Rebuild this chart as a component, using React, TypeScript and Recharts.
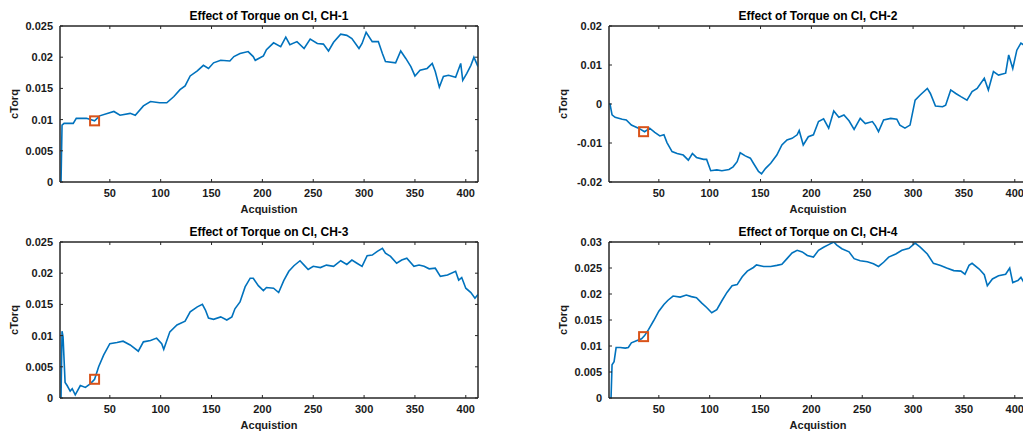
import React from "react";
import { LineChart, Line, XAxis, YAxis, ReferenceDot, ReferenceArea } from "recharts";

// acquisition index / cTorq values
const ch1X = [1, 2, 3, 5, 14, 17, 27, 35, 40, 54, 60, 70, 75, 83, 90, 99, 106, 113, 119, 124, 129, 136, 142, 147, 152, 159, 168, 172, 178, 186, 191, 193, 201, 204, 211, 218, 223, 227, 234, 241, 247, 254, 260, 265, 270, 277, 283, 288, 295, 298, 302, 308, 314, 318, 321, 331, 336, 341, 346, 350, 355, 362, 367, 370, 374, 378, 383, 390, 395, 397, 401, 405, 408, 412];
const ch1Y = [0, 0, 0.0091, 0.0094, 0.0094, 0.0102, 0.0102, 0.0098, 0.0106, 0.0113, 0.0107, 0.011, 0.0107, 0.0122, 0.0129, 0.0127, 0.0127, 0.0137, 0.0148, 0.0154, 0.017, 0.0178, 0.0187, 0.0182, 0.0191, 0.0195, 0.0194, 0.0201, 0.0206, 0.0209, 0.0201, 0.0195, 0.0202, 0.0212, 0.0223, 0.0217, 0.0232, 0.022, 0.0225, 0.0214, 0.0229, 0.0222, 0.0221, 0.021, 0.0224, 0.0237, 0.0235, 0.023, 0.0214, 0.0222, 0.024, 0.0225, 0.0225, 0.0206, 0.0193, 0.0191, 0.021, 0.0198, 0.0185, 0.017, 0.0179, 0.0182, 0.019, 0.0177, 0.0152, 0.0169, 0.0171, 0.0168, 0.019, 0.0163, 0.0174, 0.0187, 0.02, 0.0185];

const ch2X = [1, 2, 4, 7, 14, 18, 23, 30, 36, 41, 46, 51, 55, 58, 63, 68, 74, 79, 83, 87, 94, 97, 101, 107, 112, 119, 123, 127, 130, 135, 140, 143, 148, 151, 155, 160, 166, 171, 176, 181, 186, 188, 192, 197, 202, 207, 212, 217, 222, 227, 232, 237, 242, 248, 253, 260, 263, 266, 271, 278, 284, 287, 292, 297, 302, 307, 314, 317, 322, 329, 332, 337, 342, 347, 353, 358, 363, 370, 374, 379, 384, 391, 394, 398, 402, 406, 409, 412];
const ch2Y = [0, 0, -0.0028, -0.0034, -0.0039, -0.0041, -0.0054, -0.0062, -0.0071, -0.0062, -0.0073, -0.0082, -0.0079, -0.0099, -0.0122, -0.0127, -0.0131, -0.0144, -0.0127, -0.0137, -0.0142, -0.0142, -0.0171, -0.0169, -0.0171, -0.0168, -0.0161, -0.0148, -0.0125, -0.0133, -0.0139, -0.0152, -0.0173, -0.0179, -0.0165, -0.0152, -0.0131, -0.0105, -0.0092, -0.0088, -0.0079, -0.0068, -0.0105, -0.0084, -0.0079, -0.0045, -0.0038, -0.0062, -0.0018, -0.0034, -0.0028, -0.0043, -0.0065, -0.0037, -0.005, -0.0045, -0.0056, -0.0071, -0.0041, -0.0037, -0.0039, -0.0054, -0.0062, -0.0054, 0.001, 0.0023, 0.004, 0.0027, -0.0005, -0.0007, -0.0003, 0.0036, 0.0027, 0.0019, 0.001, 0.0032, 0.004, 0.0066, 0.0036, 0.0083, 0.0074, 0.0079, 0.0126, 0.0091, 0.0138, 0.0156, 0.0151, 0.0148];

const ch3X = [1, 2, 3, 4, 6, 8, 11, 13, 16, 21, 26, 31, 35, 39, 44, 50, 57, 63, 70, 78, 83, 90, 96, 101, 103, 109, 116, 124, 129, 136, 141, 144, 147, 152, 159, 165, 170, 173, 178, 183, 188, 191, 196, 201, 204, 211, 216, 221, 226, 231, 237, 241, 245, 250, 257, 263, 270, 277, 283, 288, 293, 298, 303, 308, 313, 318, 321, 326, 332, 337, 342, 349, 354, 359, 364, 370, 375, 382, 390, 393, 396, 400, 405, 409, 412];
const ch3Y = [0, 0, 0.0107, 0.0098, 0.0025, 0.002, 0.0011, 0.0015, 0.0005, 0.002, 0.0017, 0.0023, 0.003, 0.005, 0.0069, 0.0087, 0.0089, 0.0091, 0.0085, 0.0075, 0.009, 0.0092, 0.0096, 0.0087, 0.0078, 0.0106, 0.0117, 0.0123, 0.0138, 0.0146, 0.015, 0.0141, 0.0128, 0.0126, 0.013, 0.0125, 0.013, 0.0143, 0.0154, 0.0178, 0.0192, 0.0192, 0.018, 0.0172, 0.0177, 0.0176, 0.0169, 0.0188, 0.0203, 0.0212, 0.022, 0.0213, 0.0206, 0.0211, 0.0209, 0.0213, 0.0211, 0.022, 0.0214, 0.0221, 0.0216, 0.0211, 0.0228, 0.0229, 0.0235, 0.024, 0.0232, 0.0227, 0.0216, 0.0221, 0.0224, 0.0211, 0.0213, 0.0211, 0.0207, 0.0208, 0.0195, 0.0197, 0.0203, 0.0189, 0.0193, 0.0176, 0.0169, 0.016, 0.0166];

const ch4X = [1, 3, 4, 6, 8, 12, 17, 20, 23, 28, 33, 36, 40, 45, 50, 55, 59, 64, 71, 77, 82, 87, 92, 97, 102, 107, 112, 117, 122, 127, 132, 137, 143, 146, 153, 160, 166, 171, 176, 181, 186, 191, 196, 202, 207, 212, 217, 222, 225, 230, 237, 242, 248, 255, 261, 266, 271, 276, 283, 289, 296, 302, 307, 314, 320, 327, 333, 340, 347, 351, 355, 358, 365, 370, 373, 378, 384, 391, 395, 398, 403, 406, 409, 412];
const ch4Y = [0, 0, 0.0064, 0.007, 0.0097, 0.0097, 0.0096, 0.0097, 0.0106, 0.011, 0.0114, 0.012, 0.0132, 0.0149, 0.0167, 0.018, 0.0188, 0.0196, 0.0194, 0.0198, 0.0195, 0.0193, 0.0183, 0.0174, 0.0164, 0.017, 0.0187, 0.0203, 0.0216, 0.0218, 0.0233, 0.0244, 0.0251, 0.0256, 0.0253, 0.0253, 0.0255, 0.0257, 0.0268, 0.0279, 0.0284, 0.0281, 0.0274, 0.0271, 0.0284, 0.029, 0.0295, 0.03, 0.0294, 0.0287, 0.0281, 0.0268, 0.0264, 0.0262, 0.0258, 0.0253, 0.0261, 0.0271, 0.0277, 0.0284, 0.0288, 0.0298, 0.029, 0.0277, 0.0259, 0.0255, 0.025, 0.0245, 0.0244, 0.0238, 0.0255, 0.0259, 0.0248, 0.0237, 0.0216, 0.0229, 0.0235, 0.0238, 0.025, 0.0222, 0.0226, 0.0232, 0.0222, 0.0222];

// highlighted acquisition (orange square)
const markerX = 35;
const markerY = [0.0098, -0.0071, 0.003, 0.0118];

const titles = [
  "Effect of Torque on CI, CH-1",
  "Effect of Torque on CI, CH-2",
  "Effect of Torque on CI, CH-3",
  "Effect of Torque on CI, CH-4",
];
const xTicks = [50, 100, 150, 200, 250, 300, 350, 400];
const yTicks1 = [0, 0.005, 0.01, 0.015, 0.02, 0.025];
const yTicks2 = [-0.02, -0.01, 0, 0.01, 0.02];
const yTicks4 = [0, 0.005, 0.01, 0.015, 0.02, 0.025, 0.03];

const toRows = (xs: number[], ys: number[]) => xs.map((x, i) => ({ x, y: ys[i] }));

const FONT = "'Liberation Sans', Arial, sans-serif";
const AXIS = "#262626";
const tickStyle = { fontSize: 11, fill: "#1a1a1a", fontFamily: FONT, fontWeight: 700 };
const lineStyle = { stroke: AXIS, strokeWidth: 1 };

const TitleText = (props: any) => {
  const vb = props.viewBox;
  return (
    <text x={vb.x + vb.width / 2} y={vb.y - 5} textAnchor="middle" fontFamily={FONT} fontWeight={700} fontSize={12} fill="#000">
      {props.text}
    </text>
  );
};

const XText = (props: any) => {
  const vb = props.viewBox;
  return (
    <text x={vb.x + vb.width / 2} y={vb.y + 31} textAnchor="middle" fontFamily={FONT} fontWeight={700} fontSize={11} fill="#1a1a1a">
      {props.text}
    </text>
  );
};

const YText = (props: any) => {
  const vb = props.viewBox;
  const cx = vb.x + 18;
  const cy = vb.y + vb.height / 2;
  return (
    <text x={cx} y={cy} transform={`rotate(-90 ${cx} ${cy})`} textAnchor="middle" fontFamily={FONT} fontWeight={700} fontSize={11} fill="#1a1a1a">
      {props.text}
    </text>
  );
};

const Square = (props: any) => (
  <rect x={props.cx - 4.5} y={props.cy - 4.5} width={9} height={9} fill="none" stroke="#D95319" strokeWidth={2} />
);

type PanelProps = {
  rows: { x: number; y: number }[];
  title: string;
  domain: [number, number];
  ticks: number[];
  mark: number;
  left: number;
  top: number;
};

const Panel = ({ rows, title, domain, ticks, mark, left, top }: PanelProps) => (
  <div style={{ position: "absolute", left, top }}>
    <LineChart width={500} height={215} data={rows} margin={{ top: 25, right: 21, bottom: 0, left: 0 }}>
      <XAxis
        dataKey="x"
        type="number"
        domain={[1, 412]}
        ticks={xTicks}
        allowDataOverflow
        height={33}
        tickSize={-3}
        tickMargin={10}
        tick={tickStyle}
        axisLine={lineStyle}
        tickLine={lineStyle}
        label={<XText text="Acquistion" />}
      />
      <XAxis
        xAxisId="top"
        orientation="top"
        dataKey="x"
        type="number"
        domain={[1, 412]}
        ticks={xTicks}
        allowDataOverflow
        height={1}
        tickSize={-3}
        tickFormatter={() => ""}
        axisLine={lineStyle}
        tickLine={lineStyle}
        label={<TitleText text={title} />}
      />
      <YAxis
        type="number"
        domain={domain}
        ticks={ticks}
        allowDataOverflow
        width={60}
        tickSize={-3}
        tickMargin={10}
        tick={tickStyle}
        tickFormatter={(v: number) => String(v)}
        axisLine={lineStyle}
        tickLine={lineStyle}
        label={<YText text="cTorq" />}
      />
      <YAxis
        yAxisId="right"
        orientation="right"
        type="number"
        domain={domain}
        ticks={ticks}
        allowDataOverflow
        width={1}
        tickSize={-3}
        tickFormatter={() => ""}
        axisLine={lineStyle}
        tickLine={lineStyle}
      />
      <ReferenceArea x1={1} x2={412} y1={domain[0]} y2={domain[1]} fill="none" stroke={AXIS} strokeWidth={1} ifOverflow="visible" />
      <Line
        type="linear"
        dataKey="y"
        stroke="#0072BD"
        strokeWidth={1.6}
        dot={false}
        activeDot={false}
        isAnimationActive={false}
      />
      <ReferenceDot x={markerX} y={mark} shape={Square} />
    </LineChart>
  </div>
);

export default function App() {
  return (
    <div style={{ position: "fixed", left: 0, top: 0, width: 1023, height: 433, overflow: "hidden", background: "#fff" }}>
      <Panel rows={toRows(ch1X, ch1Y)} title={titles[0]} domain={[0, 0.025]} ticks={yTicks1} mark={markerY[0]} left={0} top={0} />
      <Panel rows={toRows(ch2X, ch2Y)} title={titles[1]} domain={[-0.02, 0.02]} ticks={yTicks2} mark={markerY[1]} left={549} top={0} />
      <Panel rows={toRows(ch3X, ch3Y)} title={titles[2]} domain={[0, 0.025]} ticks={yTicks1} mark={markerY[2]} left={0} top={216} />
      <Panel rows={toRows(ch4X, ch4Y)} title={titles[3]} domain={[0, 0.03]} ticks={yTicks4} mark={markerY[3]} left={549} top={216} />
    </div>
  );
}
